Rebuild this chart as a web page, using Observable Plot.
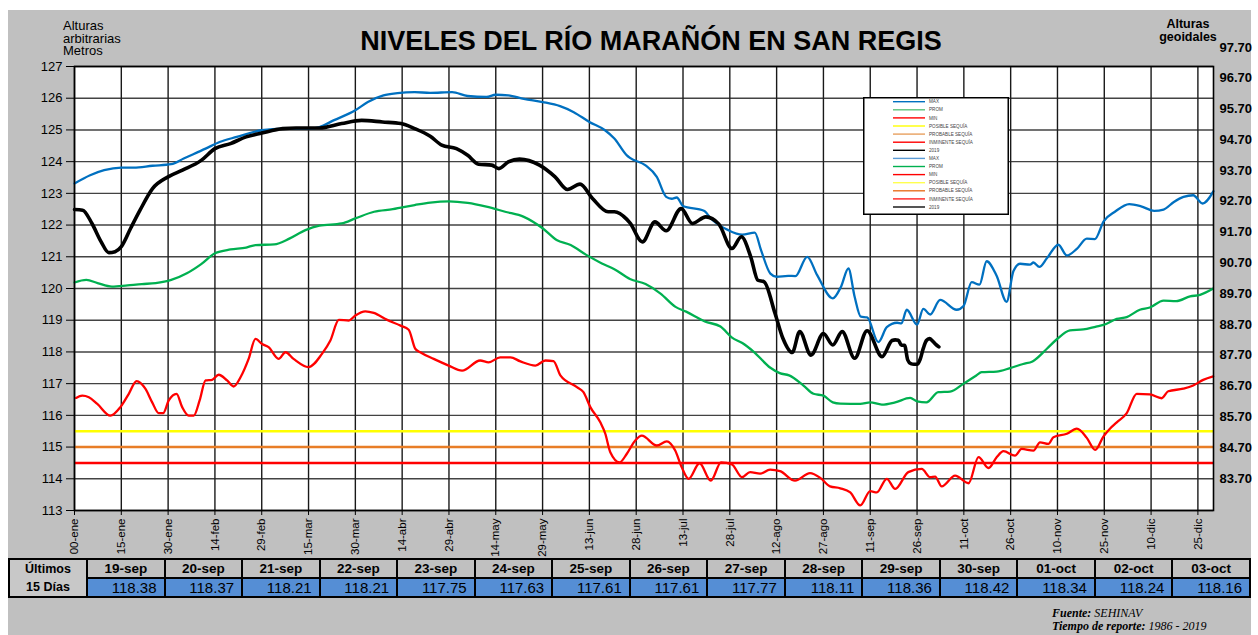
<!DOCTYPE html>
<html><head><meta charset="utf-8">
<script src="https://cdn.jsdelivr.net/npm/d3@7"></script>
<script src="https://cdn.jsdelivr.net/npm/@observablehq/plot@0.6"></script>
<style>
html,body{margin:0;padding:0;background:#fff;}
#wrap{position:relative;width:1258px;height:635px;overflow:hidden;font-family:"Liberation Sans",Arial,sans-serif;color:#000;}
#panel{position:absolute;left:8px;top:10px;width:1243px;height:625px;background:#c0c0c0;}
#chart{position:absolute;left:8px;top:10px;}
#title{position:absolute;left:651px;top:28px;transform:translateX(-50%);font-size:27px;line-height:27px;font-weight:bold;white-space:nowrap;}
#lefttxt{position:absolute;left:63px;top:20px;font-size:13px;line-height:12.6px;}
#righttxt{position:absolute;left:1188px;top:18px;transform:translateX(-50%);font-size:12.5px;line-height:13px;font-weight:bold;text-align:center;}
#legend{position:absolute;left:863px;top:97px;}
#tbl{position:absolute;left:8px;top:558px;border-collapse:collapse;table-layout:fixed;width:1243px;}
#tbl td{border:2px solid #000;padding:0;height:17px;line-height:17px;overflow:hidden;white-space:nowrap;}
#tbl td.h{background:#c0c0c0;font-weight:bold;font-size:13.5px;text-align:center;}
#tbl td.v{background:#558ed5;font-size:15px;text-align:right;padding-right:7px;}
#tbl td.u{background:#c8c8c8;font-weight:bold;font-size:12.5px;text-align:center;line-height:18px;}
#foot{position:absolute;left:1052px;top:607px;font-family:"Liberation Serif","Times New Roman",serif;font-style:italic;font-size:12px;line-height:13px;}
</style></head>
<body><div id="wrap">
<div id="panel"></div>
<div id="chart"></div>
<div id="title">NIVELES DEL RÍO MARAÑÓN EN SAN REGIS</div>
<div id="lefttxt">Alturas<br>arbitrarias<br>Metros</div>
<div id="righttxt">Alturas<br>geoidales</div>
<svg id="legend" width="146" height="118"></svg>
<table id="tbl"></table>
<div id="foot"><b>Fuente:</b> SEHINAV<br><b>Tiempo de reporte:</b> 1986 - 2019</div>
</div>
<script>
// ---------- DATA ----------
const xTickDays = [0,15,30,45,60,75,90,105,120,135,150,165,180,195,210,225,240,255,270,285,300,315,330,345,360];
const xTickLabels = ["00-ene","15-ene","30-ene","14-feb","29-feb","15-mar","30-mar","14-abr","29-abr","14-may","29-may","13-jun","28-jun","13-jul","28-jul","12-ago","27-ago","11-sep","26-sep","11-oct","26-oct","10-nov","25-nov","10-dic","25-dic"];
const yTicks = [113,114,115,116,117,118,119,120,121,122,123,124,125,126,127];
const rightTicks = [97.7,96.7,95.7,94.7,93.7,92.7,91.7,90.7,89.7,88.7,87.7,86.7,85.7,84.7,83.7];

const maxSeries = [[0,123.31],[5,123.57],[9.5,123.73],[15,123.81],[19,123.81],[25,123.87],[31,123.92],[35,124.1],[42,124.41],[46.5,124.62],[52,124.78],[60,124.99],[67,125.04],[75,125.04],[78.5,125.09],[83,125.3],[90,125.62],[94,125.88],[99,126.09],[103.5,126.16],[109,126.19],[114,126.17],[121,126.19],[126,126.07],[132,126.04],[135,126.11],[139,126.09],[144,125.98],[150,125.88],[155.6,125.75],[160,125.56],[165,125.25],[170,124.99],[173,124.73],[177,124.2],[178,124.12],[183,123.88],[186.6,123.52],[189.6,122.89],[191.4,122.83],[193,122.87],[195,122.6],[201.7,122.45],[204,122.2],[209.5,121.84],[214,121.7],[218,121.76],[220,121.21],[223,120.47],[225,120.37],[228.7,120.4],[231,120.39],[234.8,121.0],[238,120.42],[243,119.69],[245.6,120.05],[248,120.63],[250,119.74],[252,119.11],[254,119.09],[257.6,118.31],[260.3,118.78],[263.6,118.92],[265,118.9],[266.7,119.33],[270,118.86],[272,119.36],[274.2,119.18],[277.4,119.64],[282.7,119.33],[284.9,119.45],[287.5,120.2],[290,120.12],[292.3,120.86],[295.5,120.4],[298.7,119.58],[300.9,120.55],[303,120.78],[306.2,120.75],[307.3,120.82],[309.2,120.68],[311.6,120.95],[315.3,121.38],[318,121.04],[321.2,121.25],[324.4,121.57],[327,121.56],[329.8,122.12],[333.4,122.42],[338,122.66],[341.8,122.59],[346,122.45],[349,122.49],[352.3,122.73],[355.4,122.89],[358.5,122.94],[361.5,122.68],[365,123.07]];

const promSeries = [[0,120.19],[3.8,120.27],[7.4,120.17],[12,120.06],[17,120.1],[21.6,120.14],[26,120.17],[31,120.27],[36,120.48],[40.6,120.77],[45,121.11],[50,121.23],[55,121.29],[58,121.37],[64,121.39],[69,121.58],[74,121.84],[78.5,121.98],[85.6,122.05],[90,122.21],[96,122.42],[102,122.5],[109,122.63],[114,122.71],[120,122.75],[126,122.7],[132,122.58],[138,122.42],[144,122.26],[150,121.9],[154.5,121.53],[159,121.37],[164,121.06],[169,120.79],[173,120.61],[178,120.3],[183,120.14],[187.8,119.84],[192.6,119.42],[196,119.27],[202,118.96],[207,118.8],[210.7,118.45],[214,118.28],[217.5,118.02],[223,117.5],[226,117.33],[229,117.26],[233.6,116.94],[236.8,116.68],[240,116.62],[243,116.41],[245.4,116.37],[251.8,116.36],[255,116.41],[258.7,116.34],[263,116.41],[267.8,116.55],[270,116.44],[273,116.41],[276.8,116.73],[280.6,116.75],[284.9,117.0],[289,117.26],[290.7,117.36],[295.5,117.38],[299.8,117.49],[304,117.62],[307,117.7],[311.6,118.1],[314.8,118.4],[319,118.68],[323.3,118.71],[327.4,118.8],[329.7,118.85],[334,119.04],[337.2,119.1],[341.4,119.33],[344.6,119.4],[349,119.62],[353,119.6],[357.5,119.75],[360.7,119.8],[364.8,119.99]];

const minSeries = [[0.5,116.55],[2.5,116.62],[4.6,116.57],[7.3,116.36],[11.5,115.99],[14.7,116.26],[17.4,116.68],[19.9,117.08],[22.7,116.84],[24.9,116.41],[27,116.07],[28.4,116.07],[30.2,116.47],[32.7,116.68],[34.5,116.26],[36.6,115.99],[38.2,115.99],[40.1,116.47],[42,117.1],[44.1,117.12],[46.2,117.28],[48.9,117.1],[51,116.91],[53.2,117.2],[55.8,117.78],[58,118.41],[60.1,118.25],[62.2,118.15],[65.4,117.78],[67.6,117.99],[70.2,117.78],[75,117.52],[79.3,117.94],[82,118.36],[84.7,119.01],[87.9,118.99],[90,119.15],[93.2,119.28],[95.9,119.23],[100.2,119.01],[104.5,118.83],[107.1,118.7],[109.2,118.1],[110.8,117.99],[115.1,117.78],[119.9,117.57],[124.2,117.41],[130,117.73],[132.7,117.67],[136.4,117.83],[139.7,117.83],[142.9,117.7],[147.7,117.57],[150.9,117.73],[153.5,117.71],[155.7,117.26],[161,116.89],[163.1,116.73],[165.3,116.26],[168.5,115.78],[170.1,115.42],[171.7,114.84],[174.7,114.52],[177,114.79],[179.7,115.21],[181.8,115.36],[186.6,115.05],[189.8,115.18],[192.5,114.89],[194.6,114.36],[196.8,114.0],[200.3,114.49],[203.9,113.94],[207.2,114.52],[210.7,114.45],[213.9,114.05],[216.5,114.21],[219.7,114.16],[222.9,114.29],[226.1,114.24],[230.9,113.94],[235.7,114.18],[239,114.03],[242.1,113.76],[245.4,113.7],[248.6,113.57],[251.8,113.16],[255,113.61],[257.1,113.57],[260.3,114.0],[263,113.68],[267.2,114.21],[271.5,114.31],[274.2,114.05],[275.8,114.07],[277.9,113.76],[282.2,114.1],[286.5,113.86],[289.7,114.68],[292.9,114.34],[295.5,114.68],[297.7,114.87],[301.4,114.73],[303.5,114.94],[307.3,114.89],[309.4,115.15],[312.1,115.1],[313.7,115.31],[318,115.42],[321.2,115.58],[324.4,115.29],[327.1,114.91],[329.7,115.33],[331.8,115.58],[334,115.78],[337.2,116.07],[340.4,116.68],[344.6,116.66],[348.4,116.54],[350.5,116.76],[355.3,116.84],[358.5,116.94],[361.7,117.12],[364.9,117.23]];

const y2019Series = [[0,122.49],[2.6,122.47],[5.6,122.05],[8.5,121.48],[11,121.13],[13,121.16],[15,121.32],[18,121.9],[21,122.47],[25,123.15],[30,123.52],[34.6,123.73],[40.6,124.04],[45,124.41],[50,124.57],[55,124.78],[60,124.9],[66.7,125.04],[71,125.06],[78.5,125.06],[85.6,125.2],[92,125.3],[98.7,125.25],[104.6,125.2],[109,125.04],[114,124.8],[117.7,124.52],[122.4,124.41],[126,124.2],[129.5,123.92],[133.7,123.89],[136,123.78],[139,123.99],[142.6,124.08],[149,123.89],[154,123.52],[158,123.12],[162,123.29],[166,122.84],[171,122.42],[173,122.42],[177,122.18],[178,122.07],[182,121.47],[186,122.1],[189.6,121.82],[194.4,122.52],[198,122.05],[202.3,122.26],[206.5,122.03],[210.7,121.26],[213.7,121.63],[216.7,121.0],[219,120.26],[221,120.21],[224.5,119.21],[227,118.43],[230,117.98],[232.4,118.64],[236,117.9],[240,118.58],[243,118.22],[246,118.64],[250,117.8],[254,118.67],[258.8,117.85],[262,118.36],[263,118.38],[264,118.37],[265,118.21],[266,118.21],[267,117.75],[268,117.63],[269,117.61],[270,117.61],[271,117.77],[272,118.11],[273,118.36],[274,118.42],[275,118.34],[276,118.24],[277,118.16]];

const thresholdNames = ["POSIBLE SEQUÍA","PROBABLE SEQUÍA","INMINENTE SEQUÍA"];
const thresholdValues = [115.5,115.0,114.5];

const tableDates = ["19-sep","20-sep","21-sep","22-sep","23-sep","24-sep","25-sep","26-sep","27-sep","28-sep","29-sep","30-sep","01-oct","02-oct","03-oct"];
const tableValues = [118.38,118.37,118.21,118.21,117.75,117.63,117.61,117.61,117.77,118.11,118.36,118.42,118.34,118.24,118.16];

const legendNames = ["MAX","PROM","MIN","POSIBLE SEQUÍA","PROBABLE SEQUÍA","INMINENTE SEQUÍA","2019","MAX","PROM","MIN","POSIBLE SEQUÍA","PROBABLE SEQUÍA","INMINENTE SEQUÍA","2019"];

// ---------- STYLES ----------
const C = {max:"#0070c0", prom:"#00b050", min:"#ff0000", y2019:"#000000"};
const thresholdColors = ["#ffff00","#e87d26","#ff0000"];
const legendColors = ["#0070c0","#5cc27a","#ff0000","#ffff00","#e8a060","#ff0000","#000000","#5b9bd5","#00b050","#ff0000","#ffff50","#e87020","#ff2020","#555555"];

// secondary (geoidal) axis placement in primary units, as drawn in the source
const toPrimary = v => 114.01 + (v - 83.7) * 0.971;

const xLabelOf = new Map(xTickDays.map((d, i) => [d, xTickLabels[i]]));
const thresholds = thresholdValues.map((v, i) => ({name: thresholdNames[i], value: v, i}));

const chart = Plot.plot({
  width: 1243, height: 545,
  marginLeft: 66, marginRight: 38, marginTop: 56, marginBottom: 45,
  x: {domain: [0, 365]},
  y: {domain: [113, 127]},
  style: {background: "transparent", color: "#000", fontFamily: "Liberation Sans, Arial, sans-serif", overflow: "visible"},
  marks: [
    Plot.frame({fill: "white"}),
    Plot.gridX(xTickDays, {stroke: "#000", strokeOpacity: 0.9, strokeWidth: 1.4}),
    Plot.gridY(yTicks, {stroke: "#222", strokeOpacity: 0.85, strokeWidth: 1.4}),
    Plot.ruleY(thresholds, {y: "value", stroke: d => thresholdColors[d.i], strokeWidth: 2.6}),
    Plot.line(maxSeries, {x: d => d[0], y: d => d[1], stroke: C.max, strokeWidth: 2.3, curve: "monotone-x"}),
    Plot.line(promSeries, {x: d => d[0], y: d => d[1], stroke: C.prom, strokeWidth: 2.3, curve: "monotone-x"}),
    Plot.line(minSeries, {x: d => d[0], y: d => d[1], stroke: C.min, strokeWidth: 2.3, curve: "monotone-x"}),
    Plot.line(y2019Series, {x: d => d[0], y: d => d[1], stroke: C.y2019, strokeWidth: 3.6, curve: "monotone-x"}),
    Plot.frame({stroke: "#000", strokeWidth: 1.6}),
    Plot.axisY(yTicks, {anchor: "left", tickSize: 8, tickPadding: 4, fontSize: 13, label: null, tickFormat: d => String(d)}),
    Plot.axisX(xTickDays, {anchor: "bottom", tickSize: 5, tickPadding: 3, tickRotate: -90, textAnchor: "end", fontSize: 11.5, label: null, tickFormat: d => xLabelOf.get(d)}),
    Plot.text(rightTicks, {frameAnchor: "right", y: v => toPrimary(v), text: v => v.toFixed(2), dx: 6, textAnchor: "start", fontWeight: "bold", fontSize: 13})
  ]
});
document.getElementById("chart").appendChild(chart);

// legend
const lg = d3.select("#legend");
lg.append("rect").attr("x", 0.75).attr("y", 0.75).attr("width", 144.5).attr("height", 116.5).attr("fill", "#fff").attr("stroke", "#000").attr("stroke-width", 1.5);
legendNames.forEach((n, i) => {
  const y = 4.7 + i * 8.1;
  lg.append("line").attr("x1", 30).attr("x2", 62).attr("y1", y).attr("y2", y)
    .attr("stroke", legendColors[i]).attr("stroke-width", i === 13 ? 2 : 1.4);
  lg.append("text").attr("x", 66).attr("y", y + 1.6).attr("font-size", 4.6).attr("fill", "#444")
    .attr("font-family", "Liberation Sans, Arial, sans-serif").text(n);
});

// table
const tbl = document.getElementById("tbl");
let html = '<colgroup><col style="width:78px">' + tableDates.map(() => '<col>').join('') + '</colgroup>';
html += '<tr><td class="u" rowspan="2">Últimos<br>15 Días</td>' + tableDates.map(d => `<td class="h">${d}</td>`).join('') + '</tr>';
html += '<tr>' + tableValues.map(v => `<td class="v">${v.toFixed(2)}</td>`).join('') + '</tr>';
tbl.innerHTML = html;
</script>
</body></html>
